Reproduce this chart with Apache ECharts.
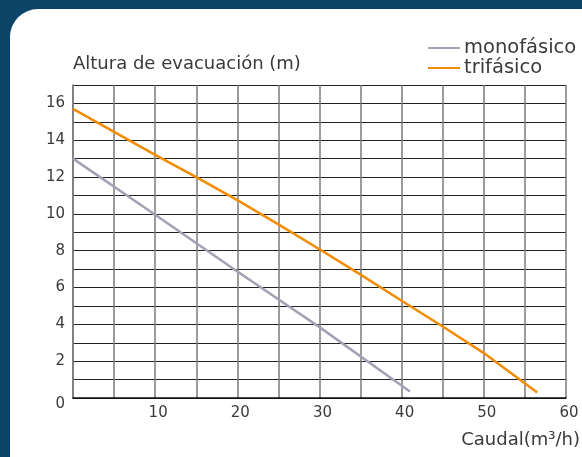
<!DOCTYPE html>
<html lang="es">
<head>
    <meta charset="utf-8">
    <title>Curva de bomba</title>
    <script src="https://cdn.jsdelivr.net/npm/echarts@6/dist/echarts.min.js"></script>
    <style>
        html, body {
            margin: 0;
            padding: 0;
            width: 582px;
            height: 457px;
            overflow: hidden;
            background: #0b4466;
        }
        .card {
            position: absolute;
            left: 10px;
            top: 9px;
            width: 620px;
            height: 480px;
            background: #ffffff;
            border-radius: 28px;
        }
        #chart {
            position: absolute;
            left: 0;
            top: 0;
            width: 582px;
            height: 457px;
        }
    </style>
</head>
<body>
<div class="card"></div>
<div id="chart"></div>

<script type="text/javascript">
    // caudal (m3/h) -> altura (m)
    var flowMono = [0, 10, 20, 30, 41];
    var headMono = [13, 9.95, 6.87, 3.85, 0.35];

    var flowTri = [0, 5, 10, 15, 20, 25, 30, 35, 40, 45, 50, 56.5];
    var headTri = [15.7, 14.45, 13.2, 12.0, 10.75, 9.43, 8.08, 6.7, 5.28, 3.88, 2.44, 0.3];

    var seriesNames = ['monofásico', 'trifásico'];
    var yTicks = [0, 2, 4, 6, 8, 10, 12, 14, 16];
    var xTicks = [10, 20, 30, 40, 50, 60];

    function pairs(xs, ys) {
        return xs.map(function (x, i) { return [x, ys[i]]; });
    }

    var font = 'DejaVu Sans';
    var textColor = '#3a3a3a';

    var myChart = echarts.init(document.getElementById('chart'));
    var option = {
        backgroundColor: 'transparent',
        animation: false,
        grid: {
            left: 73,
            right: 16,
            top: 85,
            bottom: 59
        },
        legend: {
            data: seriesNames,
            orient: 'vertical',
            left: 423,
            top: 33,
            itemWidth: 32,
            itemHeight: 2,
            itemGap: 0,
            icon: 'rect',
            textStyle: {
                fontFamily: font,
                fontSize: 19.5,
                lineHeight: 19,
                color: textColor,
                padding: [0, 0, 0, -1]
            }
        },
        xAxis: {
            type: 'value',
            min: 0,
            max: 60,
            interval: 5,
            axisLine: {show: true, lineStyle: {color: '#111', width: 1.5}},
            axisTick: {show: false},
            splitLine: {show: true, lineStyle: {color: '#7a7a7a', width: 1.5}},
            axisLabel: {
                fontFamily: font,
                fontSize: 15,
                color: textColor,
                margin: 8,
                padding: [0, 0, 0, 6],
                formatter: function (v) {
                    return xTicks.indexOf(v) >= 0 ? String(v) : '';
                }
            }
        },
        yAxis: {
            type: 'value',
            min: 0,
            max: 17,
            interval: 1,
            name: 'Altura de evacuación (m)',
            nameLocation: 'end',
            nameGap: 12,
            nameTextStyle: {
                fontFamily: font,
                fontSize: 18,
                color: textColor,
                align: 'left'
            },
            axisLine: {show: true, lineStyle: {color: '#7a7a7a', width: 1.5}},
            axisTick: {show: false},
            splitLine: {show: true, lineStyle: {color: '#222', width: 1}},
            axisLabel: {
                fontFamily: font,
                fontSize: 15,
                color: textColor,
                margin: 8,
                formatter: function (v) {
                    if (v === 0) return '{z|0}';
                    return yTicks.indexOf(v) >= 0 ? String(v) : '';
                },
                rich: {
                    z: {
                        fontFamily: font,
                        fontSize: 15,
                        color: textColor,
                        padding: [12, 0, 0, 0]
                    }
                }
            }
        },
        graphic: [{
            type: 'text',
            right: 2,
            top: 431,
            style: {
                text: 'Caudal(m³/h)',
                fontFamily: font,
                fontSize: 18,
                fill: textColor
            }
        }],
        series: [
            {
                name: seriesNames[0],
                type: 'line',
                data: pairs(flowMono, headMono),
                symbol: 'none',
                lineStyle: {color: '#a3a1b4', width: 2.5},
                itemStyle: {color: '#a3a1b4'}
            },
            {
                name: seriesNames[1],
                type: 'line',
                data: pairs(flowTri, headTri),
                symbol: 'none',
                lineStyle: {color: '#f28c00', width: 2.5},
                itemStyle: {color: '#f28c00'}
            }
        ]
    };
    myChart.setOption(option);
</script>
</body>
</html>
